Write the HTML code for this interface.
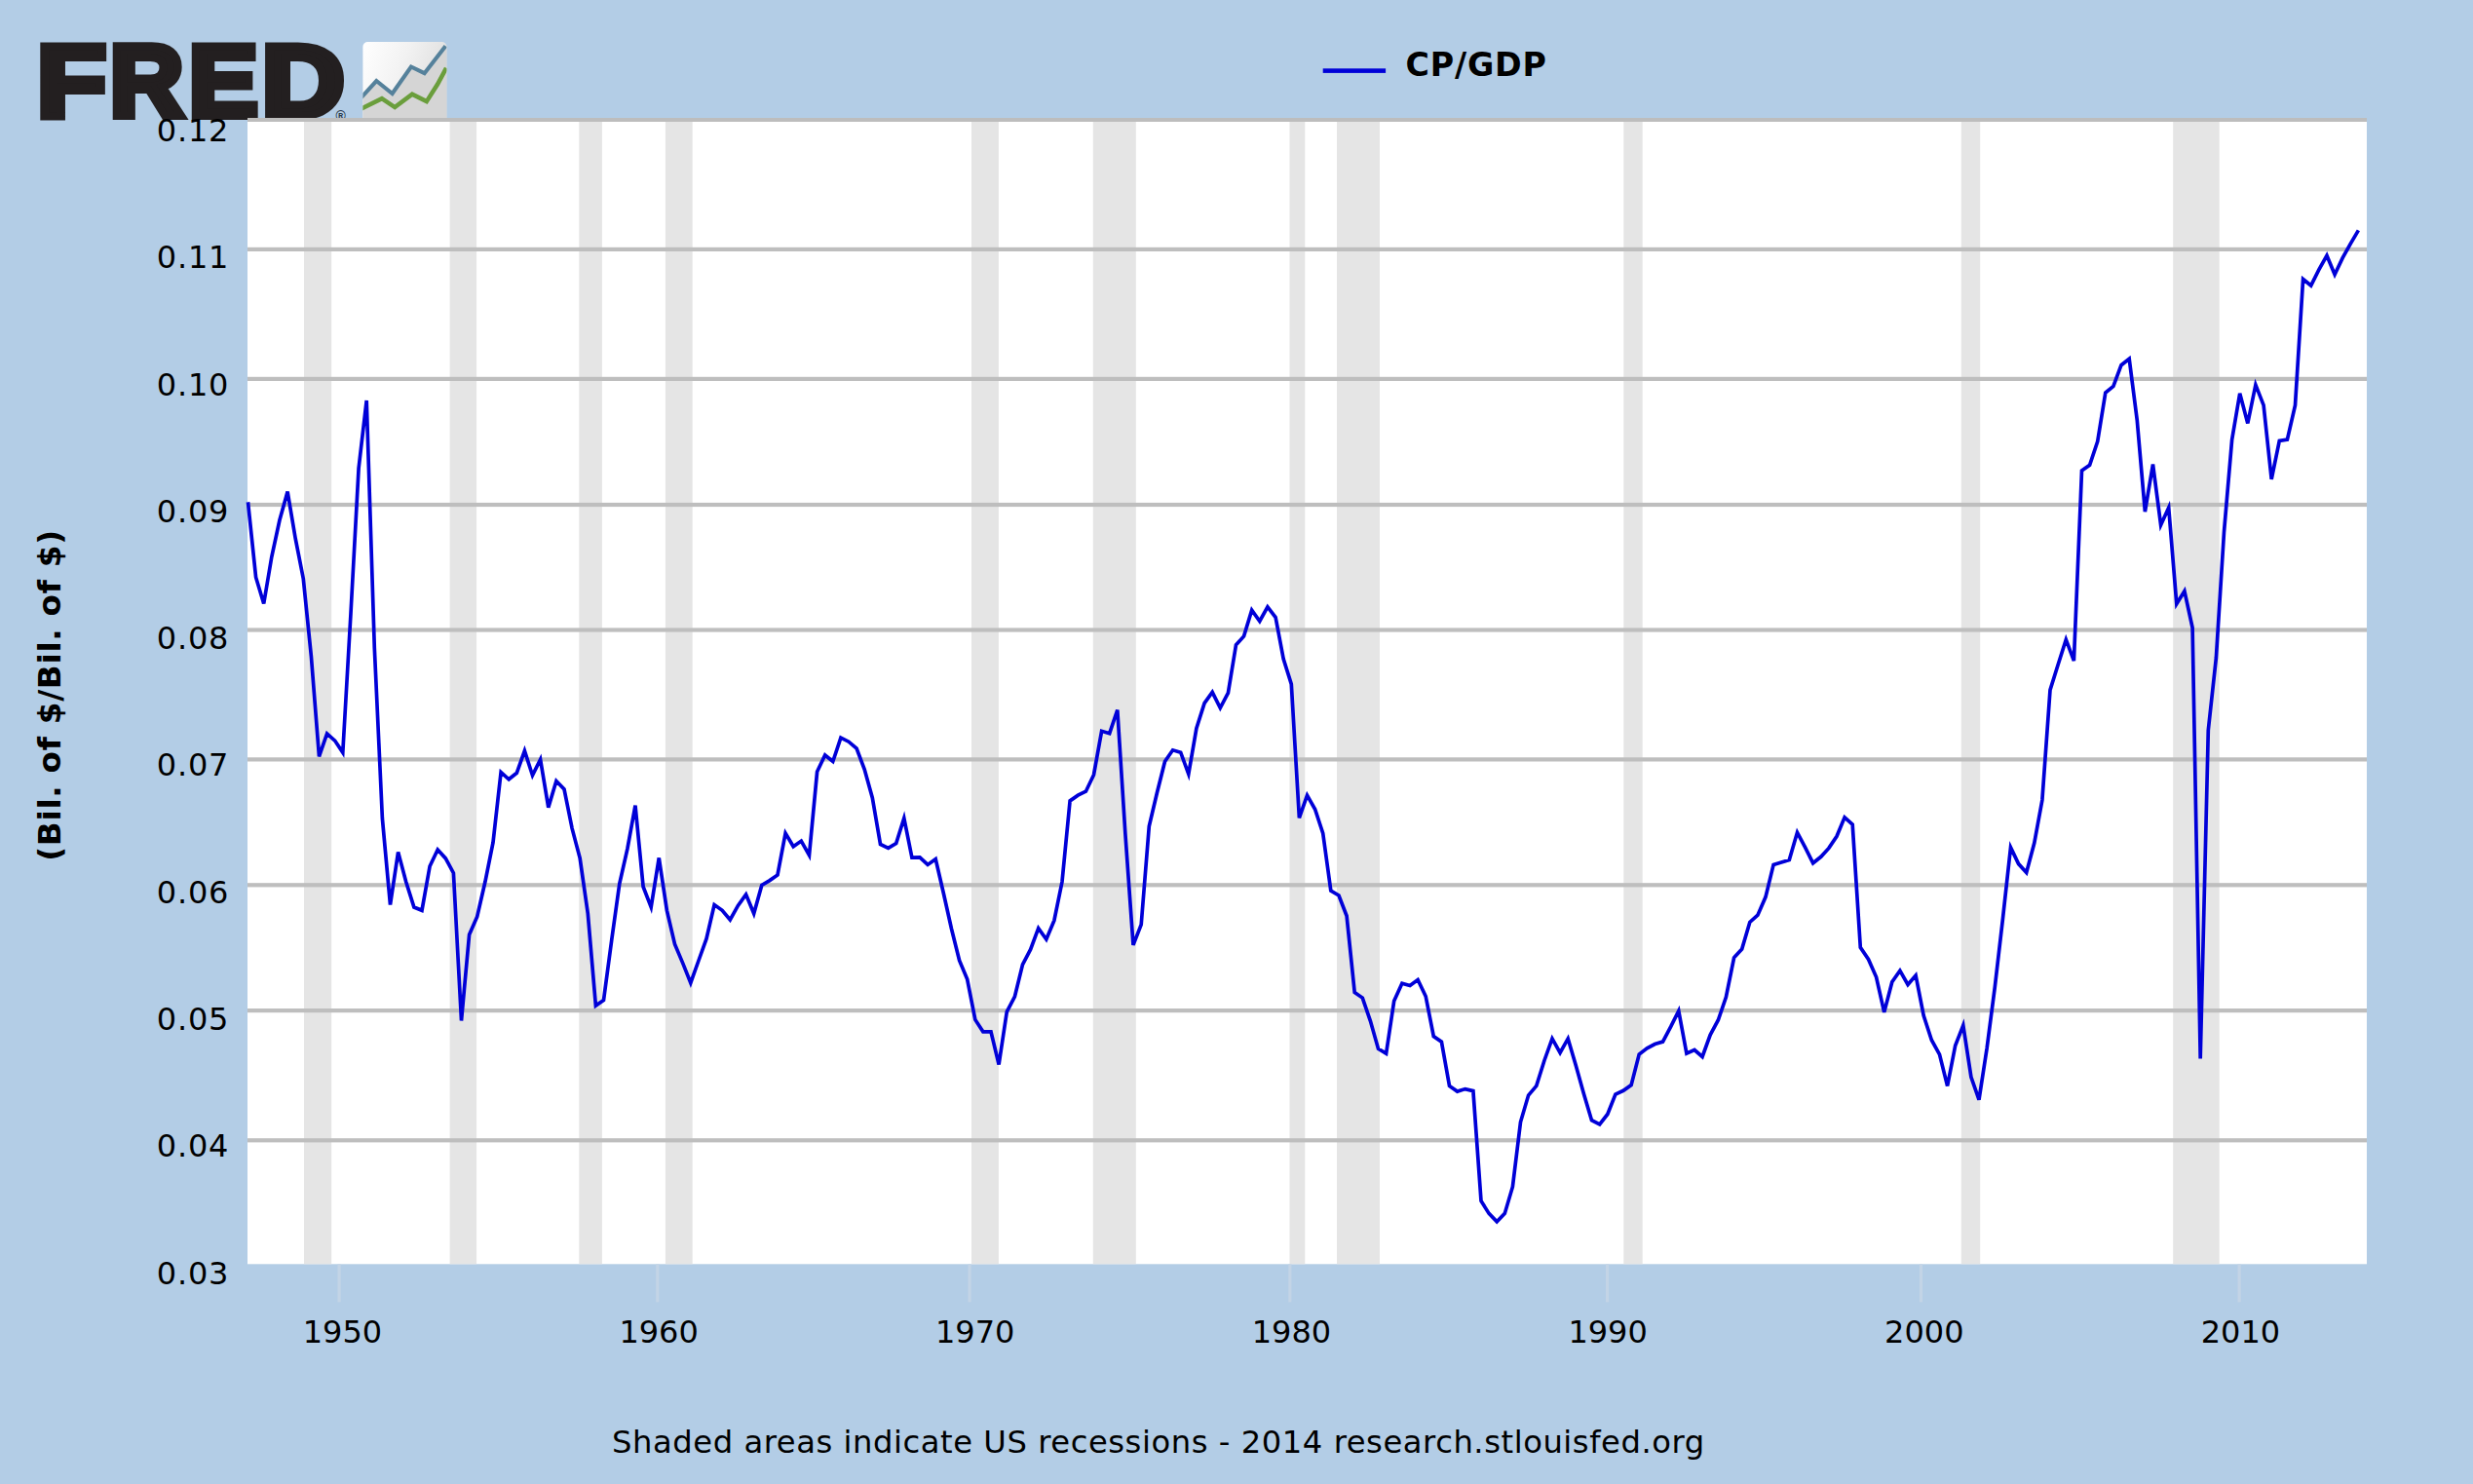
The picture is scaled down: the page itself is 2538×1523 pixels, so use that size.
<!DOCTYPE html>
<html lang="en"><head><meta charset="utf-8"><title>FRED Graph - CP/GDP</title>
<style>
html,body{margin:0;padding:0;background:#b3cde6;}
body{width:2538px;height:1523px;overflow:hidden;}
svg{display:block;}
text{font-family:"DejaVu Sans","Liberation Sans",sans-serif;fill:#000;}
.logo{font-family:"Liberation Sans",sans-serif;font-weight:bold;fill:#231f20;stroke:#231f20;}
</style></head><body>
<svg width="2538" height="1523" viewBox="0 0 2538 1523">
<defs>
<linearGradient id="ig" x1="0" y1="0" x2="1" y2="0.35"><stop offset="0" stop-color="#ffffff"/><stop offset="0.5" stop-color="#f2f2f2"/><stop offset="1" stop-color="#dedede"/></linearGradient>
<clipPath id="ic"><rect x="372.4" y="43" width="86" height="87.5" rx="5" ry="5"/></clipPath>
</defs>
<rect x="0" y="0" width="2538" height="1523" fill="#b3cde6"/>

<g id="logo">
<text class="logo" y="119.2" font-size="103.8" stroke-width="8" stroke-linejoin="miter" stroke-miterlimit="10"><tspan x="38.1" textLength="70.95" lengthAdjust="spacingAndGlyphs">F</tspan><tspan x="112.8" textLength="75.6" lengthAdjust="spacingAndGlyphs">R</tspan><tspan x="193.7" textLength="71" lengthAdjust="spacingAndGlyphs">E</tspan><tspan x="268.7" textLength="84.7" lengthAdjust="spacingAndGlyphs">D</tspan></text>
<text x="344.5" y="123.6" font-size="14" font-weight="bold" style="fill:#2b3a4a;font-family:'Liberation Sans',sans-serif">®</text>
</g>
<g id="icon" clip-path="url(#ic)">
<rect x="372" y="42.7" width="87.5" height="87.5" fill="url(#ig)"/>
<polygon points="370,101 386.3,83 402.6,96 421.9,68.5 435.6,75.2 459.5,44.5 459.5,131 370,131" fill="#d5d5d5"/>
<polyline points="370,101 386.3,83 402.6,96 421.9,68.5 435.6,75.2 457.3,47.3" fill="none" stroke="#55819b" stroke-width="4.1" stroke-linejoin="miter"/>
<polyline points="370,112.1 391.9,101.2 405.2,110.1 423,96.7 437.8,104.1 449,86.5 458,69.8" fill="none" stroke="#6a9e3c" stroke-width="4.5" stroke-linejoin="miter"/>
</g>
<rect x="254" y="121" width="2175" height="1176.3" fill="#ffffff"/>
<rect x="312.0" y="121" width="28.2" height="1176.3" fill="#e5e5e5"/>
<rect x="461.6" y="121" width="27.5" height="1176.3" fill="#e5e5e5"/>
<rect x="594.3" y="121" width="23.6" height="1176.3" fill="#e5e5e5"/>
<rect x="682.9" y="121" width="27.8" height="1176.3" fill="#e5e5e5"/>
<rect x="997.0" y="121" width="27.9" height="1176.3" fill="#e5e5e5"/>
<rect x="1121.8" y="121" width="44.0" height="1176.3" fill="#e5e5e5"/>
<rect x="1323.5" y="121" width="15.8" height="1176.3" fill="#e5e5e5"/>
<rect x="1372" y="121" width="44.0" height="1176.3" fill="#e5e5e5"/>
<rect x="1666.3" y="121" width="19.4" height="1176.3" fill="#e5e5e5"/>
<rect x="2012.8" y="121" width="19.4" height="1176.3" fill="#e5e5e5"/>
<rect x="2230.2" y="121" width="47.5" height="1176.3" fill="#e5e5e5"/>
<rect x="254" y="253.8" width="2175" height="4.2" fill="#bebebe"/>
<rect x="254" y="386.8" width="2175" height="4.2" fill="#bebebe"/>
<rect x="254" y="515.9" width="2175" height="4.2" fill="#bebebe"/>
<rect x="254" y="644.4" width="2175" height="4.2" fill="#bebebe"/>
<rect x="254" y="777.3" width="2175" height="4.2" fill="#bebebe"/>
<rect x="254" y="906.2" width="2175" height="4.2" fill="#bebebe"/>
<rect x="254" y="1035.0" width="2175" height="4.2" fill="#bebebe"/>
<rect x="254" y="1168.2" width="2175" height="4.2" fill="#bebebe"/>
<rect x="254" y="121" width="2175" height="4" fill="#bdbdbd"/>
<rect x="346.5" y="1297.3" width="3.2" height="39" fill="#c3d4e6"/>
<rect x="673.2" y="1297.3" width="3.2" height="39" fill="#c3d4e6"/>
<rect x="993.5" y="1297.3" width="3.2" height="39" fill="#c3d4e6"/>
<rect x="1322.2" y="1297.3" width="3.2" height="39" fill="#c3d4e6"/>
<rect x="1648.0" y="1297.3" width="3.2" height="39" fill="#c3d4e6"/>
<rect x="1969.9" y="1297.3" width="3.2" height="39" fill="#c3d4e6"/>
<rect x="2296.5" y="1297.3" width="3.2" height="39" fill="#c3d4e6"/>
<text x="234.4" y="144.9" font-size="32" text-anchor="end" textLength="73.6" lengthAdjust="spacing">0.12</text>
<text x="234.4" y="275.2" font-size="32" text-anchor="end" textLength="73.6" lengthAdjust="spacing">0.11</text>
<text x="234.4" y="405.5" font-size="32" text-anchor="end" textLength="73.6" lengthAdjust="spacing">0.10</text>
<text x="234.4" y="535.8" font-size="32" text-anchor="end" textLength="73.6" lengthAdjust="spacing">0.09</text>
<text x="234.4" y="666.1" font-size="32" text-anchor="end" textLength="73.6" lengthAdjust="spacing">0.08</text>
<text x="234.4" y="796.4" font-size="32" text-anchor="end" textLength="73.6" lengthAdjust="spacing">0.07</text>
<text x="234.4" y="926.7" font-size="32" text-anchor="end" textLength="73.6" lengthAdjust="spacing">0.06</text>
<text x="234.4" y="1057.0" font-size="32" text-anchor="end" textLength="73.6" lengthAdjust="spacing">0.05</text>
<text x="234.4" y="1187.3" font-size="32" text-anchor="end" textLength="73.6" lengthAdjust="spacing">0.04</text>
<text x="234.4" y="1317.6" font-size="32" text-anchor="end" textLength="73.6" lengthAdjust="spacing">0.03</text>
<text x="351.4" y="1378.3" font-size="32" text-anchor="middle">1950</text>
<text x="676.1" y="1378.3" font-size="32" text-anchor="middle">1960</text>
<text x="1000.7" y="1378.3" font-size="32" text-anchor="middle">1970</text>
<text x="1325.4" y="1378.3" font-size="32" text-anchor="middle">1980</text>
<text x="1650.1" y="1378.3" font-size="32" text-anchor="middle">1990</text>
<text x="1974.8" y="1378.3" font-size="32" text-anchor="middle">2000</text>
<text x="2299.4" y="1378.3" font-size="32" text-anchor="middle">2010</text>
<path d="M254.5,515.3 L262.6,592.5 L270.7,619.5 L278.8,571.5 L286.9,534.0 L295.1,504.6 L303.2,552.7 L311.3,594.0 L319.4,673.6 L327.5,776.3 L335.6,752.9 L343.7,760.1 L351.8,772.3 L360.0,629.5 L368.1,480.6 L376.2,411.0 L384.3,665.0 L392.4,840.0 L400.5,928.6 L408.6,874.4 L416.7,905.0 L424.9,931.0 L433.0,934.3 L441.1,889.0 L449.2,872.0 L457.3,880.9 L465.4,896.0 L473.5,1047.5 L481.6,959.2 L489.7,940.7 L497.9,905.0 L506.0,864.7 L514.1,792.5 L522.2,799.8 L530.3,793.3 L538.4,770.6 L546.5,795.7 L554.6,779.5 L562.8,828.6 L570.9,801.5 L579.0,810.0 L587.1,850.1 L595.2,880.9 L603.3,937.5 L611.4,1032.1 L619.5,1026.4 L627.7,965.0 L635.8,906.8 L643.9,871.2 L652.0,826.7 L660.1,910.0 L668.2,931.0 L676.3,880.4 L684.4,934.3 L692.5,969.0 L700.7,988.4 L708.8,1008.7 L716.9,986.0 L725.0,963.4 L733.1,928.6 L741.2,934.3 L749.3,944.0 L757.4,929.4 L765.6,918.0 L773.7,937.5 L781.8,908.4 L789.9,903.6 L798.0,897.9 L806.1,855.1 L814.2,868.8 L822.3,863.1 L830.5,877.7 L838.6,792.0 L846.7,775.0 L854.8,781.5 L862.9,757.2 L871.0,761.2 L879.1,768.2 L887.2,789.6 L895.3,818.7 L903.5,866.4 L911.6,870.4 L919.7,865.6 L927.8,839.7 L935.9,880.1 L944.0,879.8 L952.1,887.4 L960.2,881.7 L968.4,917.0 L976.5,953.2 L984.6,985.7 L992.7,1005.1 L1000.8,1046.4 L1008.9,1058.8 L1017.0,1058.8 L1025.1,1092.5 L1033.3,1038.3 L1041.4,1022.9 L1049.5,989.8 L1057.6,974.4 L1065.7,952.7 L1073.8,964.0 L1081.9,944.6 L1090.0,905.0 L1098.1,821.9 L1106.3,816.2 L1114.4,812.2 L1122.5,795.2 L1130.6,750.3 L1138.7,752.7 L1146.8,728.5 L1154.9,856.0 L1163.0,969.9 L1171.2,948.9 L1179.3,848.0 L1187.4,813.8 L1195.5,781.5 L1203.6,769.8 L1211.7,772.2 L1219.8,794.4 L1227.9,747.5 L1236.1,721.6 L1244.2,710.3 L1252.3,726.5 L1260.4,711.1 L1268.5,661.8 L1276.6,652.9 L1284.7,626.2 L1292.8,637.5 L1300.9,622.9 L1309.1,633.5 L1317.2,676.3 L1325.3,702.2 L1333.4,839.3 L1341.5,816.2 L1349.6,830.5 L1357.7,855.1 L1365.8,914.1 L1374.0,919.0 L1382.1,940.0 L1390.2,1018.4 L1398.3,1024.1 L1406.4,1047.8 L1414.5,1076.4 L1422.6,1081.2 L1430.7,1027.3 L1438.9,1009.2 L1447.0,1011.5 L1455.1,1005.5 L1463.2,1022.5 L1471.3,1063.6 L1479.4,1069.2 L1487.5,1114.4 L1495.6,1120.1 L1503.7,1117.6 L1511.9,1119.6 L1520.0,1232.5 L1528.1,1245.4 L1536.2,1253.8 L1544.3,1245.4 L1552.4,1217.9 L1560.5,1151.6 L1568.6,1124.1 L1576.8,1114.4 L1584.9,1088.5 L1593.0,1065.9 L1601.1,1080.4 L1609.2,1065.9 L1617.3,1093.4 L1625.4,1122.5 L1633.5,1149.7 L1641.7,1154.0 L1649.8,1143.5 L1657.9,1123.0 L1666.0,1119.3 L1674.1,1113.6 L1682.2,1082.1 L1690.3,1075.9 L1698.4,1071.5 L1706.5,1069.1 L1714.7,1053.7 L1722.8,1037.5 L1730.9,1081.2 L1739.0,1077.5 L1747.1,1084.5 L1755.2,1062.0 L1763.3,1047.0 L1771.4,1023.3 L1779.6,982.8 L1787.7,974.0 L1795.8,946.5 L1803.9,939.2 L1812.0,920.6 L1820.1,887.4 L1828.2,885.0 L1836.3,882.6 L1844.5,854.3 L1852.6,869.6 L1860.7,885.8 L1868.8,879.3 L1876.9,870.4 L1885.0,858.3 L1893.1,838.9 L1901.2,846.2 L1909.3,972.3 L1917.5,984.5 L1925.6,1002.8 L1933.7,1038.9 L1941.8,1007.8 L1949.9,996.2 L1958.0,1010.5 L1966.1,1001.0 L1974.2,1042.3 L1982.4,1067.5 L1990.5,1082.1 L1998.6,1114.5 L2006.7,1073.0 L2014.8,1052.3 L2022.9,1105.4 L2031.0,1128.6 L2039.1,1076.0 L2047.3,1013.0 L2055.4,943.2 L2063.5,869.6 L2071.6,886.6 L2079.7,895.5 L2087.8,865.0 L2095.9,821.0 L2104.0,708.2 L2112.1,682.3 L2120.3,656.4 L2128.4,678.2 L2136.5,483.0 L2144.6,477.3 L2152.7,453.1 L2160.8,403.0 L2168.9,396.5 L2177.0,374.7 L2185.2,368.2 L2193.3,431.5 L2201.4,525.1 L2209.5,476.5 L2217.6,538.8 L2225.7,521.0 L2233.8,619.7 L2241.9,606.7 L2250.1,644.3 L2258.2,1086.5 L2266.3,749.4 L2274.4,675.0 L2282.5,546.0 L2290.6,451.5 L2298.7,403.7 L2306.8,434.5 L2314.9,394.9 L2323.1,415.9 L2331.2,491.9 L2339.3,452.3 L2347.4,451.1 L2355.5,415.9 L2363.6,286.5 L2371.7,293.0 L2379.8,276.8 L2388.0,262.3 L2396.1,281.7 L2404.2,264.7 L2412.3,250.1 L2420.4,236.4" fill="none" stroke="#0000d8" stroke-width="3.7" stroke-linejoin="miter" stroke-miterlimit="4.08" stroke-linecap="butt"/>
<rect x="1357.7" y="70.3" width="64.4" height="4.6" fill="#0000d8"/>
<text x="1442.4" y="77.9" font-size="33.3" font-weight="bold" textLength="144.6" lengthAdjust="spacing">CP/GDP</text>
<text transform="translate(62,713.8) rotate(-90)" font-size="32.7" font-weight="bold" text-anchor="middle" textLength="340" lengthAdjust="spacing">(Bil. of $/Bil. of $)</text>
<text x="628.1" y="1490.6" font-size="32.2" textLength="1121" lengthAdjust="spacing">Shaded areas indicate US recessions - 2014 research.stlouisfed.org</text>
</svg></body></html>
